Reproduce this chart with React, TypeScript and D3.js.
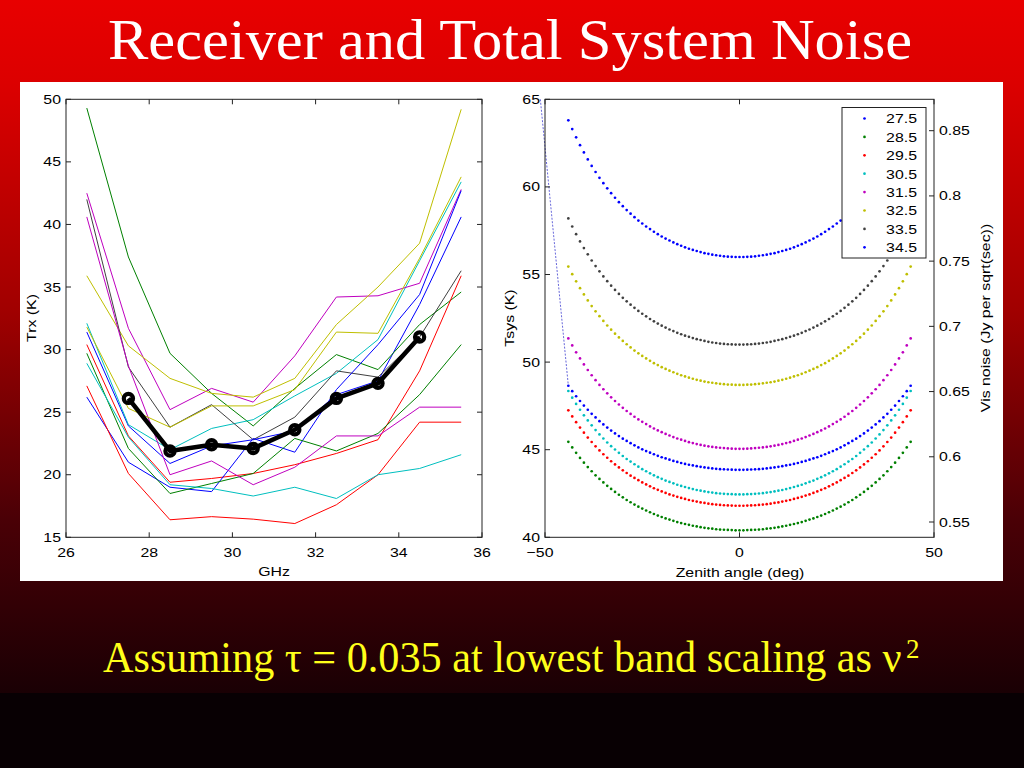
import React from 'react';
import * as d3 from 'd3';

// ---- left panel: receiver temperature per antenna vs frequency ----
const ghz = [26.5, 27.5, 28.5, 29.5, 30.5, 31.5, 32.5, 33.5, 34.5, 35.5];
const trxB1 = [31.4, 23.9, 20.9, 22.3, 22.8, 23.5, 26.4, 27.5, 33.6, 40.6];
const trxG1 = [49.3, 37.4, 29.7, 26.5, 23.9, 26.9, 29.6, 28.4, 32.0, 34.6];
const trxR1 = [30.4, 23.1, 19.4, 19.7, 20.1, 20.8, 21.7, 22.8, 28.3, 35.9];
const trxC1 = [32.1, 24.0, 22.0, 23.7, 24.4, 26.3, 28.1, 30.8, 37.1, 43.4];
const trxM1 = [42.5, 31.7, 25.2, 26.9, 25.8, 29.5, 34.2, 34.3, 35.3, 42.8];
const trxY1 = [35.9, 30.3, 27.7, 26.5, 26.2, 27.7, 32.0, 35.0, 38.5, 49.2];
const trxK1 = [42.0, 28.6, 23.8, 25.6, 22.8, 24.6, 28.3, 27.8, 31.0, 36.3];
const trxB2 = [26.2, 21.0, 19.0, 18.65, 22.9, 21.8, 26.8, 30.4, 34.4, 42.7];
const trxG2 = [29.7, 22.1, 18.5, 19.3, 20.1, 22.9, 21.9, 23.3, 26.4, 30.4];
const trxR2 = [27.1, 20.1, 16.4, 16.65, 16.45, 16.1, 17.6, 20.0, 24.2, 24.2];
const trxC2 = [28.9, 23.0, 19.2, 18.9, 18.3, 19.0, 18.1, 20.0, 20.5, 21.6];
const trxM2 = [40.6, 28.7, 20.0, 21.1, 19.2, 20.6, 23.1, 23.1, 25.4, 25.4];
const trxY2 = [31.8, 25.3, 23.8, 25.5, 25.5, 26.8, 31.4, 31.3, 37.3, 43.8];

const bandGhz = [27.5, 28.5, 29.5, 30.5, 31.5, 32.5, 33.5, 34.5];
const trxMean = [26.1, 21.9, 22.4, 22.1, 23.6, 26.1, 27.3, 31.0];

// ---- right panel: Tsys vs zenith angle (symmetric, 0..44 deg) ----
const zenith = [0, 1, 2, 3, 4, 5, 6, 7, 8, 9, 10, 11, 12, 13, 14, 15, 16, 17, 18, 19, 20, 21, 22,
  23, 24, 25, 26, 27, 28, 29, 30, 31, 32, 33, 34, 35, 36, 37, 38, 39, 40, 41, 42, 43, 44];
const tsys275 = [56.00, 56.00, 56.01, 56.02, 56.04, 56.07, 56.10, 56.13, 56.18, 56.22, 56.28, 56.34, 56.40, 56.47, 56.55, 56.64, 56.73, 56.83, 56.94, 57.05, 57.17, 57.30, 57.44, 57.59, 57.74, 57.91, 58.08, 58.27, 58.47, 58.68, 58.90, 59.13, 59.38, 59.64, 59.92, 60.21, 60.52, 60.85, 61.20, 61.57, 61.97, 62.38, 62.83, 63.30, 63.80];
const tsys285 = [40.40, 40.40, 40.41, 40.42, 40.43, 40.44, 40.46, 40.49, 40.51, 40.54, 40.58, 40.62, 40.66, 40.71, 40.76, 40.81, 40.87, 40.94, 41.01, 41.08, 41.16, 41.24, 41.33, 41.43, 41.53, 41.64, 41.75, 41.87, 42.00, 42.13, 42.28, 42.43, 42.59, 42.76, 42.94, 43.13, 43.33, 43.54, 43.77, 44.01, 44.26, 44.53, 44.82, 45.13, 45.45];
const tsys295 = [41.80, 41.80, 41.81, 41.82, 41.83, 41.85, 41.87, 41.89, 41.92, 41.96, 41.99, 42.04, 42.08, 42.13, 42.19, 42.25, 42.31, 42.38, 42.45, 42.53, 42.62, 42.71, 42.80, 42.91, 43.02, 43.13, 43.26, 43.39, 43.52, 43.67, 43.82, 43.99, 44.16, 44.34, 44.54, 44.74, 44.96, 45.19, 45.44, 45.69, 45.97, 46.26, 46.57, 46.90, 47.25];
const tsys305 = [42.45, 42.45, 42.46, 42.47, 42.48, 42.50, 42.52, 42.55, 42.58, 42.62, 42.66, 42.70, 42.75, 42.81, 42.87, 42.93, 43.00, 43.08, 43.16, 43.24, 43.34, 43.43, 43.54, 43.65, 43.77, 43.89, 44.03, 44.17, 44.32, 44.47, 44.64, 44.82, 45.01, 45.20, 45.41, 45.64, 45.87, 46.12, 46.39, 46.67, 46.96, 47.28, 47.61, 47.97, 48.35];
const tsys315 = [45.05, 45.05, 45.06, 45.07, 45.09, 45.11, 45.13, 45.16, 45.19, 45.23, 45.27, 45.32, 45.38, 45.43, 45.50, 45.57, 45.64, 45.72, 45.81, 45.90, 46.00, 46.10, 46.21, 46.33, 46.46, 46.59, 46.73, 46.88, 47.04, 47.21, 47.39, 47.58, 47.78, 47.99, 48.22, 48.45, 48.70, 48.97, 49.25, 49.55, 49.87, 50.21, 50.56, 50.95, 51.35];
const tsys325 = [48.70, 48.70, 48.71, 48.72, 48.74, 48.76, 48.79, 48.82, 48.85, 48.89, 48.94, 48.99, 49.05, 49.11, 49.18, 49.25, 49.33, 49.42, 49.51, 49.61, 49.71, 49.83, 49.94, 50.07, 50.21, 50.35, 50.50, 50.66, 50.84, 51.02, 51.21, 51.41, 51.62, 51.85, 52.09, 52.35, 52.62, 52.90, 53.20, 53.52, 53.86, 54.22, 54.61, 55.02, 55.45];
const tsys335 = [51.00, 51.00, 51.01, 51.02, 51.04, 51.06, 51.09, 51.12, 51.16, 51.21, 51.26, 51.31, 51.37, 51.44, 51.51, 51.59, 51.67, 51.77, 51.86, 51.97, 52.08, 52.20, 52.33, 52.46, 52.61, 52.76, 52.92, 53.10, 53.28, 53.47, 53.67, 53.89, 54.12, 54.36, 54.62, 54.89, 55.18, 55.48, 55.80, 56.15, 56.51, 56.89, 57.30, 57.74, 58.20];
const tsys345 = [43.85, 43.85, 43.86, 43.87, 43.88, 43.89, 43.91, 43.93, 43.96, 43.99, 44.02, 44.06, 44.10, 44.14, 44.19, 44.24, 44.30, 44.36, 44.43, 44.50, 44.57, 44.65, 44.74, 44.83, 44.92, 45.02, 45.13, 45.25, 45.37, 45.50, 45.63, 45.78, 45.93, 46.09, 46.26, 46.44, 46.63, 46.84, 47.05, 47.28, 47.52, 47.78, 48.05, 48.34, 48.65];
const legendLabels = ['27.5', '28.5', '29.5', '30.5', '31.5', '32.5', '33.5', '34.5'];

// stray line drawn off the 34.5 curve in the original figure
const strayAngle = [-51.2, -44];
const strayTsys = [65.0, 48.65];

// ticks
const trxTicks = [15, 20, 25, 30, 35, 40, 45, 50];
const ghzTicks = [26, 28, 30, 32, 34, 36];
const tsysTicks = [40, 45, 50, 55, 60, 65];
const angleTicks = [-50, 0, 50];
const noiseTicks = [0.55, 0.6, 0.65, 0.7, 0.75, 0.8, 0.85];

// matlab default colour order
const C = {
  b: '#0000ff', g: '#008000', r: '#ff0000', c: '#00bfbf',
  m: '#bf00bf', y: '#bfbf00', k: '#404040',
};

const trxLines = [
  { color: C.b, v: trxB1 }, { color: C.g, v: trxG1 }, { color: C.r, v: trxR1 },
  { color: C.c, v: trxC1 }, { color: C.m, v: trxM1 }, { color: C.y, v: trxY1 },
  { color: C.k, v: trxK1 }, { color: C.b, v: trxB2 }, { color: C.g, v: trxG2 },
  { color: C.r, v: trxR2 }, { color: C.c, v: trxC2 }, { color: C.m, v: trxM2 },
  { color: C.y, v: trxY2 },
];

const tsysCurves = [
  { color: C.b, v: tsys275 }, { color: C.g, v: tsys285 }, { color: C.r, v: tsys295 },
  { color: C.c, v: tsys305 }, { color: C.m, v: tsys315 }, { color: C.y, v: tsys325 },
  { color: C.k, v: tsys335 }, { color: C.b, v: tsys345 },
];

const SANS = '"Liberation Sans", Arial, Helvetica, sans-serif';
const SERIF = '"Liberation Serif", "Times New Roman", serif';

// the figure was stretched sideways when pasted into the slide, so text is widened along its run
const T: React.FC<{ x: number; y: number; rot?: number; anchor?: string; children: React.ReactNode }> =
  ({ x, y, rot = 0, anchor = 'middle', children }) => (
    <text transform={`translate(${x},${y}) rotate(${rot}) scale(1.22,1)`} textAnchor={anchor}>{children}</text>
  );

const App: React.FC = () => {
  // left axes
  const xL = d3.scaleLinear().domain([26, 36]).range([66, 482]);
  const yL = d3.scaleLinear().domain([15, 50]).range([537.3, 99.3]);
  // right axes
  const xR = d3.scaleLinear().domain([-50, 50]).range([545, 934]);
  const yR = d3.scaleLinear().domain([40, 65]).range([537.3, 99.3]);
  const yR2 = d3.scaleLinear().domain([0.55, 0.85]).range([522, 130.7]);

  const line = d3.line<[number, number]>().x(d => xL(d[0])).y(d => yL(d[1]));
  const stray = d3.line<[number, number]>().x(d => xR(d[0])).y(d => yR(d[1]));
  const tk = 5;
  const axisCol = '#222';

  const frame = (x0: number, x1: number, y0: number, y1: number) => (
    <rect x={x0} y={y0} width={x1 - x0} height={y1 - y0} fill="none" stroke={axisCol} strokeWidth={1} />
  );

  return (
    <svg width={1024} height={768} style={{ position: 'fixed', left: 0, top: 0 }}>
      <defs>
        <linearGradient id="bg" x1="0" y1="0" x2="0" y2="1">
          <stop offset="0" stopColor="#e80000" />
          <stop offset="0.12" stopColor="#dc0000" />
          <stop offset="0.45" stopColor="#a00000" />
          <stop offset="0.75" stopColor="#4a0006" />
          <stop offset="1" stopColor="#1a0004" />
        </linearGradient>
      </defs>
      <rect x={0} y={0} width={1024} height={693} fill="url(#bg)" />
      <rect x={0} y={693} width={1024} height={75} fill="#080003" />

      <text x={510} y={59} fill="#fff" fontFamily={SERIF} fontSize={56} textAnchor="middle"
        textLength={804} lengthAdjust="spacingAndGlyphs">Receiver and Total System Noise</text>

      <rect x={20} y={82} width={983} height={499} fill="#fff" />

      {/* ---------- left panel ---------- */}
      <g fontFamily={SANS} fontSize={13} fill="#000">
        {trxLines.map((l, i) => (
          <path key={i} d={line(ghz.map((g, j) => [g, l.v[j]]) as [number, number][]) || ''}
            fill="none" stroke={l.color} strokeWidth={1} />
        ))}
        <path d={line(bandGhz.map((g, j) => [g, trxMean[j]]) as [number, number][]) || ''}
          fill="none" stroke="#000" strokeWidth={4.5} strokeLinejoin="round" />
        {bandGhz.map((g, j) => (
          <circle key={j} cx={xL(g)} cy={yL(trxMean[j])} r={4.6} fill="none" stroke="#000" strokeWidth={4.2} />
        ))}
        {frame(66, 482, 99.3, 537.3)}
        {trxTicks.map(t => (
          <g key={t}>
            <line x1={66} x2={66 + tk} y1={yL(t)} y2={yL(t)} stroke={axisCol} />
            <line x1={482} x2={482 - tk} y1={yL(t)} y2={yL(t)} stroke={axisCol} />
            <T x={61} y={yL(t) + 4.5} anchor="end">{t}</T>
          </g>
        ))}
        {ghzTicks.map(t => (
          <g key={t}>
            <line x1={xL(t)} x2={xL(t)} y1={537.3} y2={537.3 - tk} stroke={axisCol} />
            <line x1={xL(t)} x2={xL(t)} y1={99.3} y2={99.3 + tk} stroke={axisCol} />
            <T x={xL(t)} y={557}>{t}</T>
          </g>
        ))}
        <T x={274} y={576}>GHz</T>
        <T x={36} y={318} rot={-90}>Trx (K)</T>
      </g>

      {/* ---------- right panel ---------- */}
      <g fontFamily={SANS} fontSize={13} fill="#000">
        <path d={stray(strayAngle.map((a, j) => [a, strayTsys[j]]) as [number, number][]) || ''}
          fill="none" stroke="#4040d0" strokeWidth={0.8} strokeDasharray="2,1.5" />
        {tsysCurves.map((c, i) => (
          <g key={i} fill={c.color}>
            {zenith.map((z, j) => (
              <React.Fragment key={j}>
                <circle cx={xR(z)} cy={yR(c.v[j])} r={1.35} />
                {z > 0 && <circle cx={xR(-z)} cy={yR(c.v[j])} r={1.35} />}
              </React.Fragment>
            ))}
          </g>
        ))}
        {frame(545, 934, 99.3, 537.3)}
        {tsysTicks.map(t => (
          <g key={t}>
            <line x1={545} x2={545 + tk} y1={yR(t)} y2={yR(t)} stroke={axisCol} />
            <T x={540} y={yR(t) + 4.5} anchor="end">{t}</T>
          </g>
        ))}
        {angleTicks.map(t => (
          <g key={t}>
            <line x1={xR(t)} x2={xR(t)} y1={537.3} y2={537.3 - tk} stroke={axisCol} />
            <line x1={xR(t)} x2={xR(t)} y1={99.3} y2={99.3 + tk} stroke={axisCol} />
            <T x={xR(t) - (t < 0 ? 5 : 0)} y={557}>{t < 0 ? '\u2212' + String(-t) : String(t)}</T>
          </g>
        ))}
        {noiseTicks.map(t => (
          <g key={t}>
            <line x1={934} x2={934 - tk} y1={yR2(t)} y2={yR2(t)} stroke={axisCol} />
            <T x={939} y={yR2(t) + 4.5} anchor="start">{t}</T>
          </g>
        ))}
        <T x={740} y={577}>Zenith angle (deg)</T>
        <T x={514} y={318} rot={-90}>Tsys (K)</T>
        <T x={990} y={318} rot={-90}>Vis noise (Jy per sqrt(sec))</T>

        {/* legend */}
        <rect x={842} y={107.5} width={84} height={150.5} fill="#fff" stroke={axisCol} strokeWidth={1} />
        {legendLabels.map((lab, i) => (
          <g key={lab}>
            <circle cx={864.5} cy={118.5 + i * 18.4} r={1.35} fill={tsysCurves[i].color} />
            <T x={917} y={118.5 + i * 18.4 + 4.8} anchor="end">{lab}</T>
          </g>
        ))}
      </g>

      <text transform="translate(103,672) scale(0.96,1)" fill="#ffff1a" fontFamily={SERIF} fontSize={44}>
        Assuming τ = 0.035 at lowest band scaling as ν
      </text>
      <text x={906} y={658} fill="#ffff1a" fontFamily={SERIF} fontSize={27}>2</text>
    </svg>
  );
};

export default App;
